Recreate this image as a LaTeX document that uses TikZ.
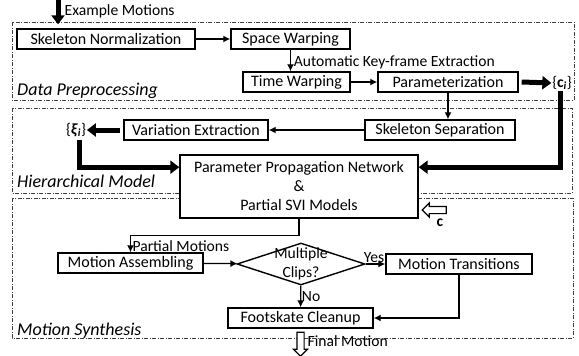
\documentclass[tikz,border=0pt]{standalone}
\usepackage{fontspec}
\setmainfont{Carlito}
\usetikzlibrary{shapes.geometric,shapes.arrows,arrows.meta,calc,positioning}

\newcommand{\boxfont}{\fontsize{16pt}{19pt}\selectfont}
\newcommand{\tagfont}{\fontsize{20pt}{24pt}\selectfont}

\tikzset{
  box/.style={draw, line width=1.4pt, fill=white, font=\boxfont, minimum height=20pt, inner sep=1pt},
  decision/.style={diamond, draw, line width=1.4pt, fill=white, minimum width=128pt, minimum height=42pt, inner sep=0pt},
  region/.style={draw=black!75, line width=0.7pt, dash pattern=on 4pt off 1.5pt on 1pt off 1.5pt},
  regionlabel/.style={font=\fontsize{18}{20}\selectfont\itshape, anchor=base west, inner sep=0pt},
  flowtag/.style={font=\tagfont, scale=0.78, inner sep=1pt},
  flow/.style={line width=1.3pt, -{Latex[length=7pt,width=7pt]}},
  heavyarrow/.style={line width=5pt, -{Triangle[length=9pt,width=13pt]}},
  hollow/.style={single arrow, draw, line width=1.2pt, fill=white, minimum height=24pt, inner sep=3pt, single arrow head extend=3.5pt}
}

\begin{document}
\begin{tikzpicture}[x=1pt,y=-1pt]
  \useasboundingbox (0,0) rectangle (579,356);

  %regions
  \draw[region] (12,22) rectangle (574,100);
  \draw[region] (12,108) rectangle (572,193);
  \draw[region] (12,198) rectangle (573,338);
  \node[regionlabel] (dplbl) at (17,95) {Data Preprocessing};
  \node[regionlabel] (hmlbl) at (17,187) {Hierarchical Model};
  \node[regionlabel] (mslbl) at (17,335) {Motion Synthesis};

  %data preprocessing
  \coordinate (em) at (58,0);
  \node[box, minimum width=178pt] (skn) at (106,39) {Skeleton Normalization};
  \node[box, minimum width=119pt] (spw) at (290.5,39) {Space Warping};
  \node[box, minimum width=107pt] (tiw) at (296.5,82) {Time Warping};
  \node[box, minimum width=140pt] (par) at (448,82) {Parameterization};
  \node[flowtag] (ci) at (562,83) {\{\textbf{c}\textsubscript{\textbf{\textit{i}}}\}};

  \draw[heavyarrow, shorten >=4pt] (em) -- (em |- skn.north)
    node[flowtag, pos=0.4, right=4pt] {Example Motions};
  \draw[flow] (skn) -- (spw);
  \draw[flow] (spw.south) -- (spw.south |- tiw.north)
    node[flowtag, midway, right=2pt, yshift=-2pt] {Automatic Key-frame Extraction};
  \draw[flow] (tiw) -- (par);
  \draw[heavyarrow] (par.east) ++(3,0) -- (ci.west);

  %hierarchical model
  \node[box, minimum width=150pt] (sks) at (440,130) {Skeleton Separation};
  \node[box, minimum width=144pt] (vex) at (196,130) {Variation Extraction};
  \node[flowtag] (xi) at (76,130) {\{\textbf{\textit{ξ}}\textsubscript{\textbf{\textit{i}}}\}};
  \node[box, minimum width=238pt, minimum height=63pt, align=center] (ppn) at (299,186.5)
    {Parameter Propagation Network\\\&\\Partial SVI Models};
  \coordinate (ppnin) at ($(ppn.north)!0.2!(ppn.south)$);

  \draw[flow] (par.south) -- (par.south |- sks.north);
  \draw[flow] (sks) -- (vex);
  \draw[heavyarrow] (vex.west) ++(-3,0) -- (xi.east);
  \draw[heavyarrow] (xi.south) ++(3,2) |- (ppn.west |- ppnin);
  \draw[heavyarrow] (ci.south) ++(-2,0) |- (ppn.east |- ppnin);

  \node[hollow, shape border rotate=180] (carr) at (436,210) {};
  \node[flowtag] (cvec) at (440,223) {\textbf{c}};

  %motion synthesis
  \node[box, minimum width=145pt] (mas) at (130.5,263) {Motion Assembling};
  \node[decision, label={[flowtag, align=center]center:Multiple\\Clips?}] (mcl) at (301,264) {};
  \node[box, minimum width=146pt] (mtr) at (459,264) {Motion Transitions};
  \node[box, minimum width=145pt] (fsc) at (300.5,318) {Footskate Cleanup};
  \node[hollow, shape border rotate=270, below=3pt of fsc] (fin) {};
  \node[flowtag, right=2pt of fin, yshift=2pt] (finlbl) {Final Motion};

  \draw[flow] (ppn.south) -- ++(0,17) -| (mas.north)
    node[flowtag, pos=0.62, anchor=north west, xshift=1pt] {Partial Motions};
  \draw[flow] (mas) -- (mcl);
  \draw[flow] (mcl) -- (mtr) node[flowtag, midway, above, xshift=-2pt] {Yes};
  \draw[flow] (mcl) -- (fsc) node[flowtag, midway, right] {No};
  \draw[flow] (mtr.south) |- (fsc.east);
\end{tikzpicture}
\end{document}
